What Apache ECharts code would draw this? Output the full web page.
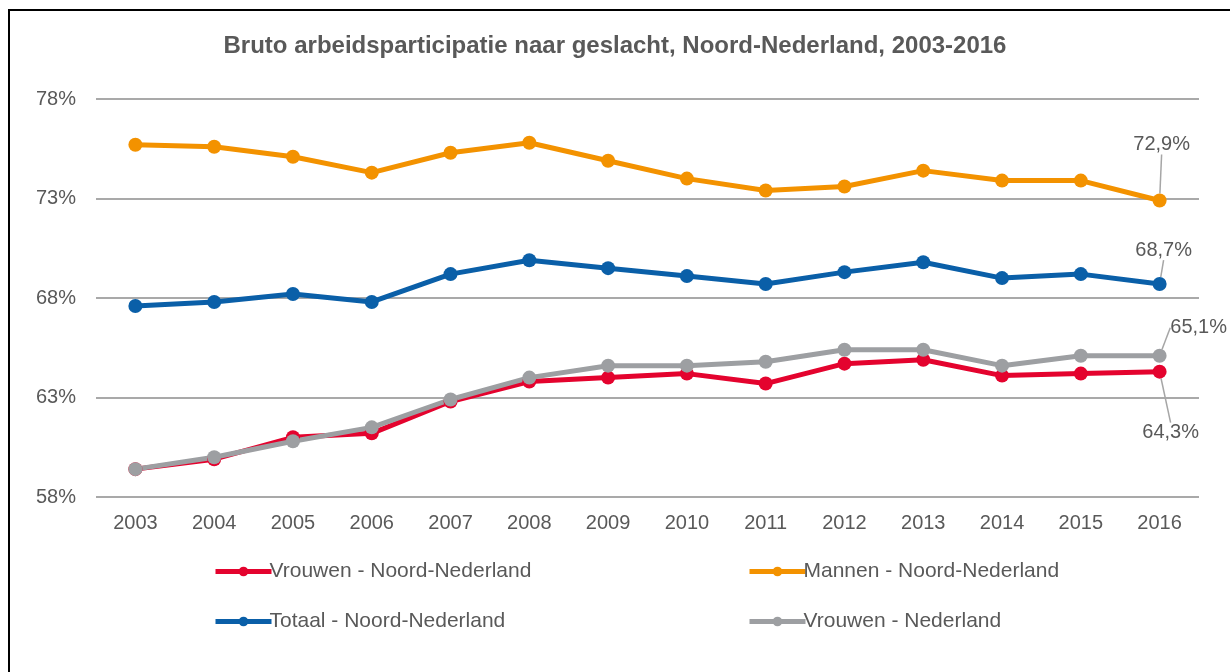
<!DOCTYPE html>
<html>
<head>
<meta charset="utf-8">
<script src="https://cdn.jsdelivr.net/npm/echarts@6/dist/echarts.min.js"></script>
<style>
  html, body { margin: 0; padding: 0; background: #fff; }
  #frame { position: absolute; left: 8px; top: 9px; width: 1240px; height: 700px;
           border-left: 2px solid #000; border-top: 2px solid #000; }
  #chart { position: absolute; left: 0; top: 0; width: 1230px; height: 672px; }
</style>
</head>
<body>
<div id="frame"></div>
<div id="chart"></div>
<script>
const years = ['2003','2004','2005','2006','2007','2008','2009','2010','2011','2012','2013','2014','2015','2016'];
const vrouwenNoord = [59.4, 59.9, 61.0, 61.2, 62.8, 63.8, 64.0, 64.2, 63.7, 64.7, 64.9, 64.1, 64.2, 64.3];
const mannenNoord  = [75.7, 75.6, 75.1, 74.3, 75.3, 75.8, 74.9, 74.0, 73.4, 73.6, 74.4, 73.9, 73.9, 72.9];
const totaalNoord  = [67.6, 67.8, 68.2, 67.8, 69.2, 69.9, 69.5, 69.1, 68.7, 69.3, 69.8, 69.0, 69.2, 68.7];
const vrouwenNL    = [59.4, 60.0, 60.8, 61.5, 62.9, 64.0, 64.6, 64.6, 64.8, 65.4, 65.4, 64.6, 65.1, 65.1];
const yTicks = [58, 63, 68, 73, 78];

const names = ['Vrouwen - Noord-Nederland', 'Mannen - Noord-Nederland',
               'Totaal - Noord-Nederland', 'Vrouwen - Nederland'];

const txt = '#595959';
const font = 'Liberation Sans, Arial, sans-serif';

// one line series; only the last point gets a label, moved by dx/dy with a leader line
function line(name, data, color, dx, dy) {
    const last = data.length - 1;
    return {
        name: name,
        type: 'line',
        data: data.map((v, i) => i === last
            ? { value: v, label: { show: true }, labelLine: { show: true } }
            : v),
        symbol: 'circle',
        symbolSize: 14,
        lineStyle: { width: 5, color: color },
        itemStyle: { color: color },
        label: {
            show: false,
            fontSize: 20,
            fontFamily: font,
            color: txt,
            formatter: p => p.value.toFixed(1).replace('.', ',') + '%'
        },
        labelLine: { show: false, lineStyle: { color: '#a6a6a6', width: 1.5 } },
        labelLayout: p => p.dataIndex === last ? { dx: dx, dy: dy } : {},
        z: 2
    };
}

function legend(left, items) {
    return {
        data: items,
        orient: 'vertical',
        left: left,
        top: 561,
        padding: 0,
        itemGap: 29,
        itemWidth: 56,
        itemHeight: 12,
        lineStyle: { width: 5 },
        textStyle: { fontSize: 21, color: txt, fontFamily: font, padding: [0, 0, 0, -7] }
    };
}

const chart = echarts.init(document.getElementById('chart'));
chart.setOption({
    animation: false,
    title: {
        text: 'Bruto arbeidsparticipatie naar geslacht, Noord-Nederland, 2003-2016',
        left: 'center',
        top: 29,
        textStyle: { fontSize: 24, fontWeight: 'bold', color: txt, fontFamily: font }
    },
    grid: { left: 96, right: 31, top: 99, bottom: 175 },
    legend: [
        legend(213, [names[0], names[2]]),
        legend(747, [names[1], names[3]])
    ],
    xAxis: {
        type: 'category',
        data: years,
        boundaryGap: true,
        axisLine: { show: false },
        axisTick: { show: false },
        axisLabel: { fontSize: 20, color: txt, fontFamily: font, margin: 16 }
    },
    yAxis: {
        type: 'value',
        min: yTicks[0],
        max: yTicks[yTicks.length - 1],
        interval: 5,
        axisLabel: { fontSize: 20, color: txt, fontFamily: font, margin: 20, formatter: v => v + '%' },
        splitLine: { lineStyle: { color: '#8c8c8c', width: 1.5 } }
    },
    series: [
        line(names[0], vrouwenNoord, '#e4032e', 11, 83),
        line(names[1], mannenNoord, '#f39200', 2, -34),
        line(names[2], totaalNoord, '#0a5fa8', 4, -12),
        line(names[3], vrouwenNL, '#9d9fa2', 39, -6)
    ]
});
</script>
</body>
</html>
